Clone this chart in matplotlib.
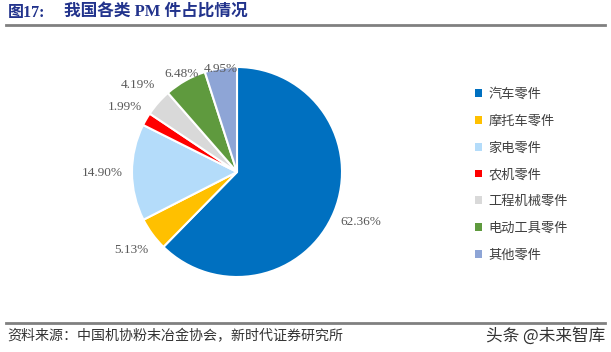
import matplotlib
matplotlib.use("Agg")
import matplotlib.pyplot as plt
from matplotlib.lines import Line2D
from matplotlib.patches import Patch
import numpy as np

categories = ["汽车零件", "摩托车零件", "家电零件", "农机零件", "工程机械零件", "电动工具零件", "其他零件"]
shares = [62.36, 5.13, 14.90, 1.99, 4.19, 6.48, 4.95]
colors = ["#0070C0", "#FFC000", "#B4DCFA", "#FF0000", "#D9D9D9", "#5F9A3E", "#8EA5D6"]
label_dist = [1.27, 1.25, 1.28, 1.23, 1.25, 1.07, 0.99]

title_num = "图17:"
title_text = "我国各类 PM 件占比情况"
source_text = "资料来源：中国机协粉末冶金协会，新时代证券研究所"
watermark = "头条 @未来智库"

W, H = 611, 352
fig = plt.figure(figsize=(W / 100, H / 100), dpi=100)

def fx(px):
    return px / W

def fy(py):
    return 1 - py / H

cx, cy, r = 237, 172, 105
ax = fig.add_axes([fx(cx - r), fy(cy + r), 2 * r / W, 2 * r / H])
wedges, _ = ax.pie(shares, colors=colors, startangle=90, counterclock=False,
                   radius=1, wedgeprops=dict(edgecolor="white", linewidth=1.5))
ax.set_xlim(-1, 1)
ax.set_ylim(-1, 1)
ax.set_aspect("auto")
ax.axis("off")

for w, v, d in zip(wedges, shares, label_dist):
    ang = np.deg2rad((w.theta1 + w.theta2) / 2)
    ax.text(d * np.cos(ang), d * np.sin(ang), f"{v:.2f}%", ha="center", va="center",
            fontsize=9.5, color="#595959", family=["Liberation Serif"], clip_on=False)

handles = [Patch(facecolor=c, edgecolor="none") for c in colors]
leg = fig.legend(handles, categories, loc="upper left",
                 bbox_to_anchor=(fx(475), fy(88)), frameon=False,
                 prop={"family": ["Noto Sans CJK SC"], "size": 9.5},
                 handlelength=0.55, handleheight=0.55, handletextpad=0.45,
                 labelspacing=1.04, borderpad=0, borderaxespad=0)
for t in leg.get_texts():
    t.set_color("#404040")

title_color = "#22338C"
fig.text(fx(8), fy(13), title_num, ha="left", va="center", fontsize=11.5, fontweight="bold",
         color=title_color, family=["Liberation Serif", "Noto Sans CJK SC"])
fig.text(fx(64), fy(13), title_text, ha="left", va="center", fontsize=12, fontweight="bold",
         color=title_color, family=["Liberation Serif", "Noto Sans CJK SC"])

fig.add_artist(Line2D([fx(6), fx(605)], [fy(24.5), fy(24.5)], color="#808080", linewidth=2))
fig.add_artist(Line2D([fx(6), fx(605)], [fy(323), fy(323)], color="#808080", linewidth=2))

fig.text(fx(7), fy(336), source_text, ha="left", va="center", fontsize=10.1,
         color="#333333", family=["Noto Sans CJK SC"])
fig.text(fx(605), fy(336), watermark, ha="right", va="center", fontsize=12,
         color="#333333", family=["Noto Sans CJK SC", "DejaVu Sans"])

fig.savefig("out.png", dpi=100)
